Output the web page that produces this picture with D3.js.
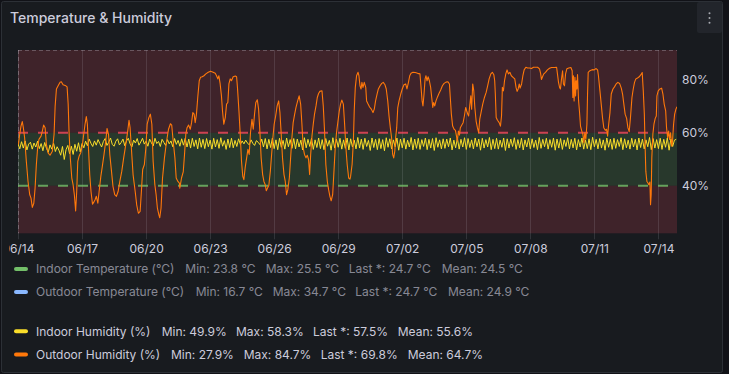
<!DOCTYPE html>
<html><head><meta charset="utf-8">
<script src="https://cdn.jsdelivr.net/npm/d3@7"></script>
<style>
html,body{margin:0;padding:0;background:#111217;overflow:hidden;}
svg{display:block;font-family:Inter,"Noto Sans",sans-serif;}
</style></head><body>
<svg id="c" width="729" height="374"></svg>
<script>
// ---------------- DATA ----------------
const startDate = new Date(2024, 5, 14, 0, 0, 0);
const endDay = 30.87;
const tickDays = [0, 3, 6, 9, 12, 15, 18, 21, 24, 27, 30];
const tickLabels = ["06/14","06/17","06/20","06/23","06/26","06/29","07/02","07/05","07/08","07/11","07/14"];
const yTicks = [40, 60, 80];
const yDomain = [22.04, 91.21];
const thresholds = [40, 60];

// Indoor humidity (%), one value every 2 hours from 06/14 00:00
const indoorHumStepHours = 2;
const indoorHum = [
55.8,53.9,56.6,54.2,56.9,53.5,55.7,56.4,53.8,56.1,54.6,56.8,
54.0,55.9,53.2,56.3,54.1,52.6,55.4,53.8,56.0,52.9,54.7,53.4,
51.5,54.8,49.9,53.6,55.2,52.1,54.9,51.8,55.6,53.0,56.2,52.7,
55.9,54.3,56.8,55.1,57.6,56.0,54.8,56.9,55.3,57.4,55.9,54.6,
56.7,57.8,55.2,56.4,58.0,55.6,54.9,56.8,57.7,55.4,56.3,57.6,
55.1,56.9,57.9,55.8,54.6,57.2,56.1,57.8,55.3,56.5,57.9,55.7,
56.8,54.9,57.6,56.2,55.0,57.9,55.9,56.7,54.8,57.5,56.3,55.2,
57.4,55.8,56.9,54.7,57.8,55.6,57.1,54.9,57.7,55.3,57.9,54.6,
57.6,54.2,57.9,54.8,57.3,53.9,58.0,54.5,57.5,54.0,57.8,54.7,
57.2,53.8,57.9,54.6,57.4,54.1,58.1,54.9,57.0,53.7,57.6,54.4,
57.9,54.3,57.1,54.8,57.7,55.6,56.9,55.8,57.2,56.1,55.4,57.3,
56.0,55.2,57.0,56.4,55.5,57.6,54.6,57.8,53.9,57.5,54.4,58.0,
54.0,57.3,53.6,57.9,54.5,57.1,53.8,58.0,54.7,57.4,54.1,57.8,
53.9,57.6,54.6,57.2,53.5,58.1,54.3,57.5,54.8,57.9,53.7,57.3,
54.4,58.0,54.0,57.4,53.6,57.8,54.9,57.1,53.4,58.1,54.2,57.6,
54.5,57.9,53.8,57.3,54.1,58.0,53.5,57.7,54.6,57.2,53.9,58.2,
54.2,57.6,53.7,57.9,54.8,57.1,53.3,58.0,54.4,57.5,53.6,57.8,
54.0,57.4,53.2,58.1,54.5,57.7,53.9,57.3,54.7,58.0,53.4,57.6,
54.3,57.9,53.8,57.2,54.6,58.2,53.5,57.6,54.1,57.9,53.7,57.4,
54.8,58.0,53.6,57.5,54.2,57.8,53.3,58.1,54.5,57.3,53.9,57.7,
54.1,57.6,54.7,58.0,53.5,57.2,54.3,57.9,53.8,57.5,54.6,58.1,
53.7,57.8,54.4,57.3,53.9,58.0,54.7,57.6,53.4,57.9,54.2,57.4,
54.6,58.2,53.6,57.5,54.0,57.9,53.8,57.2,54.5,58.0,53.3,57.7,
54.2,57.6,54.8,58.1,53.7,57.4,54.3,57.9,53.5,57.3,54.6,58.0,
53.9,57.7,54.4,57.2,53.6,58.2,54.1,57.5,54.7,57.9,53.8,57.4,
54.5,58.0,53.4,57.6,54.2,57.8,53.7,57.3,54.8,58.1,53.9,57.5,
54.3,57.9,53.5,57.4,54.6,58.0,53.8,57.2,54.0,57.7,53.6,58.3,
54.7,57.5,53.9,57.8,54.2,57.3,53.4,58.0,54.5,57.6,53.7,57.9,
54.1,57.4,54.8,58.1,53.6,57.7,54.3,57.2,53.8,57.9,54.6,57.5,
53.5,58.0,54.4,57.6,53.9,57.3,54.7,58.2,53.6,57.8,54.2,57.4,
54.0,57.9,53.7,57.5,54.5,58.0,53.4,57.6,54.8,57.2,57.5
];

// Outdoor humidity (%): time in days since 06/14 00:00, and value
const outdoorDays = [
0.02,0.08,0.14,0.20,0.25,0.31,0.39,0.47,0.55,0.61,0.67,0.74,0.80,0.86,0.92,0.98,1.08,1.14,1.20,1.27,1.33,1.41,1.50,1.61,1.69,1.74,1.80,1.88,1.97,2.03,2.11,2.24,2.30,2.35,2.39,2.45,2.52,2.58,2.64,2.70,2.75,2.80,2.86,2.94,
3.02,3.08,3.14,3.20,3.25,3.30,3.36,3.42,3.49,3.55,3.61,3.67,3.74,3.80,3.88,3.95,4.03,4.11,4.17,4.24,4.30,4.38,4.45,4.53,4.61,4.69,4.77,4.86,4.95,5.05,5.14,5.20,5.25,5.31,5.39,5.49,5.56,5.64,5.72,5.78,5.84,5.92,5.99,
6.05,6.13,6.20,6.27,6.33,6.41,6.47,6.53,6.60,6.64,6.70,6.77,6.86,6.95,7.05,7.14,7.20,7.27,7.35,7.41,7.49,7.56,7.58,7.66,7.74,7.80,7.86,7.92,7.99,8.07,8.13,8.19,8.25,8.30,8.36,8.42,8.49,8.55,8.63,8.71,8.80,8.91,
9.02,9.14,9.24,9.30,9.36,9.41,9.47,9.53,9.58,9.64,9.71,9.77,9.83,9.88,9.94,10.00,10.08,10.18,10.24,10.28,10.35,10.41,10.47,10.53,10.58,10.64,10.71,10.77,10.83,10.89,10.96,11.02,11.08,11.14,11.21,11.27,11.33,11.39,11.46,11.52,11.58,11.63,11.69,11.75,11.82,11.88,11.94,
12.00,12.07,12.14,12.21,12.27,12.33,12.39,12.46,12.52,12.58,12.64,12.71,12.77,12.83,12.89,12.96,13.02,13.10,13.17,13.24,13.30,13.36,13.42,13.49,13.55,13.61,13.66,13.71,13.77,13.83,13.89,13.96,14.02,14.08,14.14,14.24,14.30,14.36,14.42,14.49,14.55,14.61,14.67,14.74,14.80,14.86,14.92,14.99,
15.05,15.11,15.17,15.24,15.30,15.36,15.42,15.49,15.55,15.58,15.65,15.71,15.75,15.80,15.86,15.93,15.97,16.02,16.07,16.11,16.16,16.22,16.29,16.33,16.40,16.47,16.55,16.63,16.69,16.75,16.82,16.88,16.96,17.04,17.11,17.19,17.25,17.32,17.38,17.44,17.50,17.55,17.60,17.65,17.69,17.74,17.79,17.85,17.93,
18.00,18.08,18.16,18.22,18.29,18.35,18.41,18.50,18.61,18.72,18.83,18.88,18.93,18.97,19.02,19.07,19.11,19.16,19.21,19.27,19.33,19.38,19.43,19.47,19.52,19.58,19.65,19.72,19.80,19.88,19.96,20.05,20.14,20.21,20.25,20.30,20.36,20.43,20.49,20.54,20.58,20.63,20.68,20.72,20.79,20.85,20.91,20.97,
21.02,21.07,21.11,21.16,21.21,21.25,21.30,21.35,21.40,21.46,21.52,21.58,21.63,21.69,21.77,21.85,21.93,22.00,22.07,22.15,22.22,22.29,22.33,22.36,22.40,22.46,22.54,22.60,22.65,22.69,22.74,22.79,22.85,22.91,22.97,23.04,23.11,23.19,23.27,23.33,23.38,23.43,23.48,23.52,23.59,23.65,23.71,23.79,23.87,23.96,
24.05,24.15,24.24,24.34,24.43,24.48,24.52,24.57,24.63,24.71,24.80,24.90,24.99,25.12,25.23,25.27,25.32,25.37,25.41,25.46,25.51,25.55,25.60,25.65,25.71,25.80,25.90,25.96,25.99,26.02,26.05,26.09,26.12,26.15,26.18,26.21,26.26,26.30,26.35,26.41,26.46,26.51,26.55,26.60,26.65,26.68,26.71,26.79,26.90,26.99,
27.08,27.15,27.19,27.26,27.32,27.38,27.44,27.51,27.57,27.62,27.66,27.73,27.79,27.87,27.94,28.02,28.10,28.18,28.26,28.32,28.38,28.44,28.51,28.57,28.63,28.69,28.76,28.82,28.88,28.94,29.02,29.10,29.18,29.24,29.29,29.34,29.37,29.41,29.46,29.51,29.55,29.60,29.63,29.66,29.69,29.74,29.79,29.85,29.90,29.93,29.99,
30.07,30.15,30.21,30.27,30.34,30.38,30.43,30.48,30.52,30.57,30.62,30.66,30.71,30.76,30.82,30.87
];
const outdoorHum = [
55.6,59.4,62.5,64.2,61.9,58.1,49.2,41.6,36.6,35.3,31.8,33.4,39.1,48.0,54.3,57.5,58.7,60.6,62.9,61.9,55.6,52.4,51.5,53.0,59.4,70.1,76.5,77.7,79.0,79.2,78.1,77.7,77.3,70.8,60.6,50.5,42.9,40.4,36.6,30.5,37.8,49.2,51.1,52.4,
55.6,59.4,63.2,66.1,63.2,54.3,44.2,37.8,33.0,33.8,34.7,36.0,33.4,37.8,43.5,47.3,51.8,56.8,61.6,59.4,51.8,45.4,39.7,36.6,36.0,37.8,41.6,45.4,50.5,55.6,60.6,64.7,61.9,54.3,44.2,37.8,32.8,29.6,30.3,37.8,46.1,48.0,54.3,
63.2,65.7,67.0,63.2,49.2,40.4,36.6,31.5,29.0,27.9,31.5,42.9,50.5,56.2,61.3,63.4,62.9,56.8,50.5,42.9,41.6,41.0,39.1,42.9,45.2,51.8,59.4,61.9,62.9,61.3,63.8,67.6,67.0,63.8,67.0,73.3,79.6,80.9,81.1,81.5,82.2,82.8,
83.2,82.8,82.4,81.5,80.3,81.5,78.4,73.9,68.2,63.2,65.7,70.8,71.4,78.4,80.3,79.6,81.1,81.4,81.1,77.1,68.2,59.4,49.2,43.5,42.3,46.7,50.5,53.7,51.8,60.0,65.1,61.3,67.0,71.4,72.4,68.9,60.6,50.5,44.2,41.6,40.4,38.1,39.1,40.1,45.4,51.8,58.1,
63.2,66.3,70.1,72.0,67.6,59.4,50.5,44.2,41.6,36.6,38.5,42.9,50.5,58.1,63.8,67.0,69.5,72.0,73.9,70.8,63.2,54.3,51.8,50.5,51.5,49.9,44.2,51.8,58.7,63.2,67.0,70.1,73.3,74.8,75.6,75.8,70.1,60.6,48.0,41.6,38.5,36.0,34.3,36.6,45.4,54.3,60.0,64.4,
68.2,70.8,72.3,70.8,63.2,54.3,48.0,42.9,42.5,43.5,48.0,56.8,68.2,77.1,81.5,82.8,81.5,77.7,76.5,79.0,77.1,79.0,77.1,72.0,70.8,69.7,68.9,67.6,68.9,72.0,74.6,76.5,77.7,78.6,79.0,78.1,76.5,72.0,66.3,61.9,58.1,51.8,50.5,53.0,58.1,61.9,69.5,72.0,74.6,
76.5,78.1,78.4,76.5,79.0,81.5,82.4,82.8,82.7,82.4,82.2,77.1,72.0,70.1,74.6,80.3,81.5,79.6,81.1,79.6,77.1,73.3,69.5,71.4,70.1,72.0,73.5,74.8,76.1,77.7,78.6,79.1,79.2,78.4,73.3,67.0,62.5,61.3,60.9,58.7,56.8,60.6,59.1,61.9,62.9,63.8,66.3,69.5,
68.2,67.0,66.3,70.1,73.9,68.9,78.4,75.8,69.5,64.4,61.9,60.0,65.1,67.6,70.8,73.3,75.2,77.7,80.3,82.2,82.8,81.9,79.6,74.6,65.7,64.7,63.8,62.5,66.3,77.1,75.8,79.6,82.2,83.7,82.2,82.8,81.5,80.9,80.3,77.1,75.6,76.5,78.4,76.8,78.4,81.5,83.7,84.7,84.4,84.4,
84.2,84.7,84.7,84.7,84.1,82.4,80.1,81.1,82.2,82.8,83.7,84.3,84.6,84.6,84.7,82.2,79.0,77.1,76.5,80.3,83.4,78.4,77.7,82.2,84.1,84.4,84.6,83.4,73.3,81.5,72.0,80.9,73.9,79.6,76.5,81.9,72.0,68.2,62.5,60.6,59.4,56.2,60.0,57.5,63.2,74.6,82.8,83.4,83.8,83.7,
84.2,83.7,81.5,75.8,70.8,65.7,61.9,60.9,61.3,58.7,62.5,67.6,74.6,76.5,77.3,78.4,79.0,78.6,76.8,74.6,70.8,67.0,65.4,61.9,60.4,65.7,73.3,76.5,79.0,80.3,80.6,81.1,81.9,82.7,75.8,67.0,56.8,45.4,41.6,41.0,40.4,41.4,32.8,36.6,50.5,59.4,63.2,65.4,66.3,73.9,75.8,
76.5,76.8,74.6,70.8,68.2,61.9,58.1,60.6,57.5,60.0,54.9,56.8,63.2,67.0,68.9,69.8
];

// Legend
const legendNames = ["Indoor Temperature (°C)","Outdoor Temperature (°C)","Indoor Humidity (%)","Outdoor Humidity (%)"];
const legendColors = ["#73BF69","#8AB8FF","#FADE2A","#FF780A"];
const legendHidden = [true, true, false, false];
const legendUnits = [" °C"," °C","%","%"];
const legendMin  = [23.8, 16.7, 49.9, 27.9];
const legendMax  = [25.5, 34.7, 58.3, 84.7];
const legendLast = [24.7, 24.7, 57.5, 69.8];
const legendMean = [24.5, 24.9, 55.6, 64.7];

// ---------------- DRAW ----------------
const svg = d3.select("#c");
const W = 729, H = 374;
const DAY = 86400000;
const toDate = d => new Date(startDate.getTime() + d * DAY);

// page + panel
svg.append("rect").attr("width", W).attr("height", H).attr("fill", "#111217");
svg.append("rect").attr("x", 1.5).attr("y", 1.5).attr("width", 721).attr("height", 371)
  .attr("rx", 2).attr("fill", "#181b1f").attr("stroke", "#2c3036").attr("stroke-width", 1);

// title
svg.append("text").attr("x", 10).attr("y", 22.5).attr("fill", "#ccccdc")
  .attr("font-size", 14).attr("font-weight", 500).text("Temperature & Humidity");

// menu button
svg.append("rect").attr("x", 697).attr("y", 2).attr("width", 25).attr("height", 31)
  .attr("rx", 2).attr("fill", "#22252b");
[13.3, 18.1, 22.8].forEach(cy => svg.append("circle").attr("cx", 709.5).attr("cy", cy).attr("r", 1).attr("fill", "#a8aab0"));

// plot
const plotL = 18, plotR = 677, plotT = 50, plotB = 233.3;
const x = d3.scaleTime().domain([toDate(0), toDate(endDay)]).range([plotL, plotR]);
const y = d3.scaleLinear().domain(yDomain).range([plotB, plotT]);

svg.append("clipPath").attr("id", "plotclip").append("rect")
  .attr("x", plotL).attr("y", plotT).attr("width", plotR - plotL).attr("height", plotB - plotT);
svg.append("clipPath").attr("id", "panelclip").append("rect")
  .attr("x", 9).attr("y", 0).attr("width", 713).attr("height", H);

// threshold bands
const bands = [
  {lo: yDomain[0], hi: thresholds[0], color: "#F2495C"},
  {lo: thresholds[0], hi: thresholds[1], color: "#73BF69"},
  {lo: thresholds[1], hi: yDomain[1], color: "#F2495C"}
];
svg.append("g").selectAll("rect").data(bands).join("rect")
  .attr("x", plotL).attr("width", plotR - plotL)
  .attr("y", d => y(d.hi)).attr("height", d => y(d.lo) - y(d.hi))
  .attr("fill", d => d.color).attr("fill-opacity", 0.18);

// vertical grid (with tick extension below plot)
const tickDates = tickDays.map(toDate);
svg.append("g").selectAll("line").data(tickDates).join("line")
  .attr("x1", d => Math.round(x(d)) + 0.5).attr("x2", d => Math.round(x(d)) + 0.5)
  .attr("y1", plotT).attr("y2", plotB + 6)
  .attr("stroke", "rgba(204,204,220,0.14)").attr("stroke-width", 1);

// plot border (top / left dashed)
svg.append("line").attr("x1", plotL).attr("x2", plotR).attr("y1", plotT + 0.5).attr("y2", plotT + 0.5)
  .attr("stroke", "rgba(204,204,220,0.3)").attr("stroke-dasharray", "4,3");
svg.append("line").attr("x1", plotL + 0.5).attr("x2", plotL + 0.5).attr("y1", plotT).attr("y2", plotB)
  .attr("stroke", "rgba(204,204,220,0.3)").attr("stroke-dasharray", "4,3");

// threshold lines
const thLines = [{v: thresholds[0], color: "#73BF69"}, {v: thresholds[1], color: "#F2495C"}];
svg.append("g").selectAll("line").data(thLines).join("line")
  .attr("x1", plotL).attr("x2", plotR)
  .attr("y1", d => y(d.v)).attr("y2", d => y(d.v))
  .attr("stroke", d => d.color).attr("stroke-opacity", 0.8).attr("stroke-width", 2)
  .attr("stroke-dasharray", "10,10");

// series
const indoorData = indoorHum.map((v, i) => ({t: new Date(startDate.getTime() + i * indoorHumStepHours * 3600000), v}));
const outdoorData = outdoorDays.map((d, i) => ({t: toDate(d), v: outdoorHum[i]}));
const line = d3.line().x(d => x(d.t)).y(d => y(d.v));
const series = svg.append("g").attr("clip-path", "url(#plotclip)");
series.append("path").datum(indoorData).attr("d", line)
  .attr("fill", "none").attr("stroke", legendColors[2]).attr("stroke-width", 1).attr("stroke-linejoin", "round");
series.append("path").datum(outdoorData).attr("d", line)
  .attr("fill", "none").attr("stroke", legendColors[3]).attr("stroke-width", 1.1).attr("stroke-linejoin", "round");

// x axis
const xAxis = d3.axisBottom(x).tickValues(tickDates).tickFormat((d, i) => tickLabels[i])
  .tickSize(0).tickPadding(11);
const gx = svg.append("g").attr("transform", `translate(0,${plotB})`).attr("clip-path", "url(#panelclip)").call(xAxis);
gx.select(".domain").remove();
gx.selectAll("text").attr("fill", "#ccccdc").attr("font-size", 12).attr("font-family", "Inter, sans-serif");

// y axis (right)
const yAxis = d3.axisRight(y).tickValues(yTicks).tickFormat(d => d + "%").tickSize(0).tickPadding(5);
const gy = svg.append("g").attr("transform", `translate(${plotR},0)`).call(yAxis);
gy.select(".domain").remove();
gy.selectAll("text").attr("fill", "#ccccdc").attr("font-size", 12).attr("font-family", "Inter, sans-serif");

// legend (layout positions of each text segment per row)
const rowCY = [269.1, 292.1, 331.3, 354.5];
const segX = [
  [36, 185.3, 265.7, 348.7, 441.7],
  [36, 195.7, 272.7, 355.3, 448.0],
  [36, 161.7, 236.0, 313.0, 397.7],
  [36, 171.0, 243.7, 320.7, 407.7]
];
const fmt = (v, u) => v.toFixed(1) + u;
legendNames.forEach((name, i) => {
  const g = svg.append("g").attr("opacity", legendHidden[i] ? 0.62 : 1);
  svg.append("rect").attr("x", 14).attr("y", rowCY[i] - 2).attr("width", 14).attr("height", 4)
    .attr("rx", 2).attr("fill", legendColors[i]);
  const parts = [name,
    "Min: " + fmt(legendMin[i], legendUnits[i]),
    "Max: " + fmt(legendMax[i], legendUnits[i]),
    "Last *: " + fmt(legendLast[i], legendUnits[i]),
    "Mean: " + fmt(legendMean[i], legendUnits[i])];
  parts.forEach((p, k) => {
    g.append("text").attr("x", segX[i][k]).attr("y", rowCY[i] + 4.3)
      .attr("fill", "#ccccdc").attr("font-size", 12).text(p);
  });
});
</script>
</body></html>
